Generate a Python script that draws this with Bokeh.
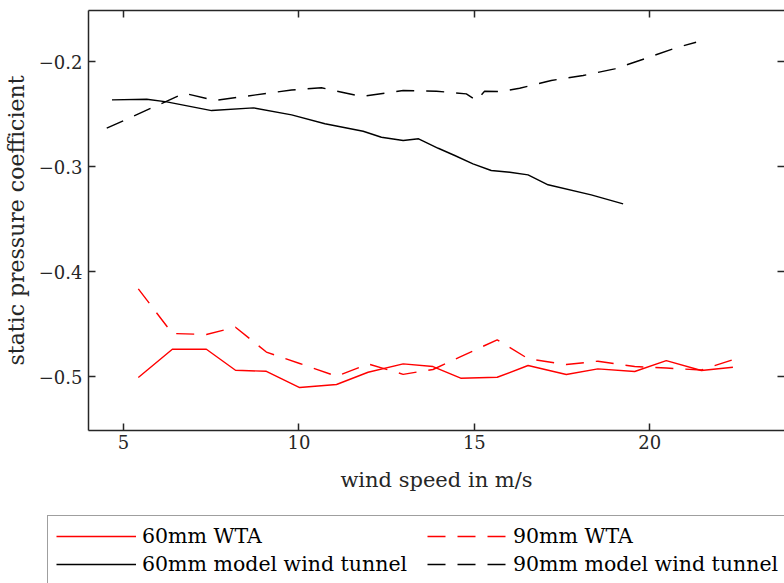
from bokeh.plotting import figure
from bokeh.layouts import column, row
from bokeh.models import (Range1d, LinearAxis, FixedTicker, Legend, LegendItem,
                          CustomJSTickFormatter)
from bokeh.embed import file_html
from bokeh.resources import INLINE

# ---- data ----
wta_speed = [5.42, 6.39, 7.36, 8.19, 9.07, 10.02, 11.07, 11.97, 12.97, 13.82,
             14.61, 15.65, 16.53, 17.62, 18.52, 19.57, 20.47, 21.47, 22.37]
wta60_cp = [-0.501, -0.474, -0.474, -0.494, -0.495, -0.5105, -0.5076, -0.4959,
            -0.4879, -0.4905, -0.5016, -0.5007, -0.4895, -0.4981, -0.4927,
            -0.4952, -0.4848, -0.4943, -0.4911]
wta90_cp = [-0.4165, -0.459, -0.46, -0.453, -0.4767, -0.4876, -0.4997, -0.488,
            -0.4979, -0.4933, -0.481, -0.465, -0.483, -0.4886, -0.4854,
            -0.4905, -0.4919, -0.4938, -0.484]

mwt60_speed = [4.67, 5.66, 6.23, 7.51, 8.70, 9.79, 10.74, 11.83, 12.35, 12.97,
               13.41, 13.97, 14.44, 14.96, 15.48, 16.01, 16.53, 17.10, 18.33, 19.24]
mwt60_cp = [-0.2365, -0.2359, -0.2384, -0.2467, -0.2441, -0.2508, -0.2593,
            -0.2664, -0.2721, -0.2752, -0.2736, -0.2826, -0.2895, -0.2974,
            -0.3038, -0.3054, -0.3079, -0.3174, -0.3270, -0.3355]

mwt90_speed = [4.52, 6.73, 7.60, 9.79, 10.64, 11.78, 12.97, 13.92, 14.77, 15.06,
               15.29, 15.77, 16.29, 17.19, 18.10, 19.00, 19.85, 20.71, 21.32]
mwt90_cp = [-0.2635, -0.2302, -0.2371, -0.2271, -0.2250, -0.2333, -0.2276,
            -0.2283, -0.2308, -0.2371, -0.2283, -0.2286, -0.2254, -0.2181,
            -0.2133, -0.2070, -0.1974, -0.1873, -0.1816]

x_ticks = [5, 10, 15, 20]
y_ticks = [-0.5, -0.4, -0.3, -0.2]
labels = ["60mm WTA", "90mm WTA", "60mm model wind tunnel", "90mm model wind tunnel"]

FONT = "DejaVu Serif"
AX = "#262626"
DASH = "18 12"

# ---------------- main chart ----------------
p = figure(width=784, height=500, output_backend="svg", toolbar_location=None,
           x_range=Range1d(4.0, 23.84), y_range=Range1d(-0.5514, -0.1514),
           min_border_left=87, min_border_right=0, min_border_top=10,
           min_border_bottom=70)
p.grid.visible = False
p.outline_line_color = None
p.background_fill_color = "white"
p.border_fill_color = "white"

def style(ax, ticks, show_labels=True, line=True):
    ax.ticker = FixedTicker(ticks=ticks, minor_ticks=[])
    ax.axis_line_color = AX if line else None
    ax.axis_line_width = 1.5
    ax.major_tick_in = 7
    ax.major_tick_out = 0
    ax.major_tick_line_color = AX
    ax.major_tick_line_width = 1.5
    ax.minor_tick_line_color = None
    if show_labels:
        ax.major_label_text_font = FONT
        ax.major_label_text_font_size = "18px"
        ax.major_label_text_color = "#262626"
        ax.axis_label_text_font = FONT
        ax.axis_label_text_font_size = "21px"
        ax.axis_label_text_font_style = "normal"
        ax.axis_label_text_color = "#262626"
    else:
        ax.formatter = CustomJSTickFormatter(code="return ''")
        ax.major_label_text_font_size = "0px"
        ax.major_label_standoff = 0

style(p.xaxis[0], x_ticks)
p.xaxis[0].axis_label = "wind speed in m/s"
p.xaxis[0].major_label_standoff = 4
p.xaxis[0].axis_label_standoff = 16

style(p.yaxis[0], y_ticks)
p.yaxis[0].axis_label = "static pressure coefficient"
p.yaxis[0].axis_label_text_font_size = "22px"
p.yaxis[0].major_label_standoff = 6
p.yaxis[0].axis_label_standoff = 7

top = LinearAxis()
style(top, x_ticks, show_labels=False)
p.add_layout(top, "above")
right = LinearAxis()
style(right, y_ticks, show_labels=False, line=False)
p.add_layout(right, "right")

p.line(wta_speed, wta60_cp, line_color="#ff0000", line_width=1.4)
p.line(wta_speed, wta90_cp, line_color="#ff0000", line_width=1.4, line_dash=DASH)
p.line(mwt60_speed, mwt60_cp, line_color="#000000", line_width=1.4)
p.line(mwt90_speed, mwt90_cp, line_color="#000000", line_width=1.4, line_dash=DASH)

# ---------------- legend strip below ----------------
q = figure(width=784, height=83, output_backend="svg", toolbar_location=None,
           x_range=Range1d(0, 1), y_range=Range1d(0, 1),
           x_axis_location=None, y_axis_location=None,
           min_border=0)
q.grid.visible = False
q.outline_line_color = None
q.background_fill_color = "white"
q.border_fill_color = "white"
for fig in (p, q):
    if "frame_align" in fig.properties():
        fig.frame_align = False

# same series, only referenced by the legend (outside this strip's view)
l1 = q.line(wta_speed, wta60_cp, line_color="#ff0000", line_width=1.4)
l2 = q.line(wta_speed, wta90_cp, line_color="#ff0000", line_width=1.4, line_dash=DASH)
l3 = q.line(mwt60_speed, mwt60_cp, line_color="#000000", line_width=1.4)
l4 = q.line(mwt90_speed, mwt90_cp, line_color="#000000", line_width=1.4, line_dash=DASH)

legend = Legend(items=[LegendItem(label=labels[0], renderers=[l1]),
                       LegendItem(label=labels[1], renderers=[l2]),
                       LegendItem(label=labels[2], renderers=[l3]),
                       LegendItem(label=labels[3], renderers=[l4])],
                location=(47, -2), orientation="horizontal", ncols=2,
                glyph_width=80, glyph_height=24, label_height=24,
                label_width=281, label_standoff=6, spacing=4, padding=8,
                border_line_color="#404040", border_line_width=1,
                background_fill_color="white", background_fill_alpha=1.0,
                label_text_font=FONT, label_text_font_size="20.5px",
                label_text_color="#000000")
q.add_layout(legend, "center")

layout = column(p, row(q, spacing=0), spacing=0)
open("out.html", "w").write(file_html(layout, INLINE))
